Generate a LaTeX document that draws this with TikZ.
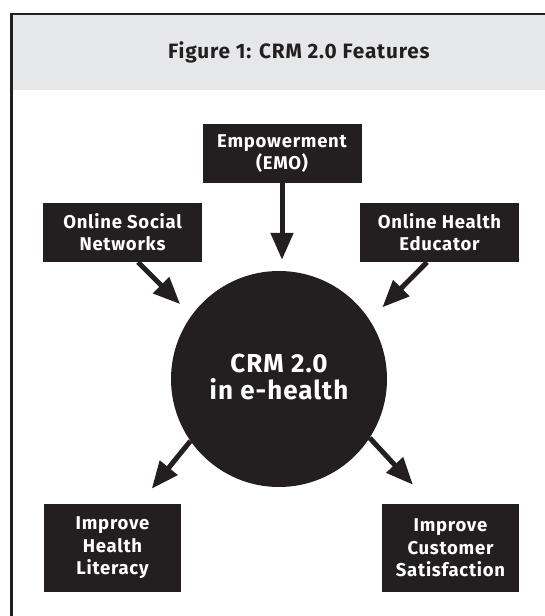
\documentclass[tikz,border=0pt]{standalone}
\usepackage{fontspec}
\setmainfont{Fira Sans}[LetterSpace=4]
\usepackage{xcolor}
\usepackage{tikz}
\usetikzlibrary{arrows.meta}
\definecolor{ink}{HTML}{231F20}
\definecolor{panel}{HTML}{E6E7E8}
\tikzstyle{feature}=[fill=ink, text=white, shape=rectangle, inner sep=0pt, align=center, font=\bfseries\fontsize{18.5}{21.7}\selectfont]
\tikzstyle{top feature}=[feature, minimum width=159pt, minimum height=59pt]
\tikzstyle{bottom feature}=[feature, minimum width=137pt, minimum height=88pt, font=\bfseries\fontsize{18.5}{22.6}\selectfont]
\tikzstyle{hub}=[fill=ink, text=white, shape=circle, minimum size=216pt, inner sep=0pt, align=center, text depth=5pt, font=\bfseries\fontsize{26}{26.7}\selectfont]
\tikzstyle{caption}=[text=ink, anchor=base, font=\bfseries\fontsize{20.8}{24}\selectfont]
\tikzstyle{feed edge}=[-{Triangle[length=27pt, width=22pt]}, draw=ink, fill=ink, line width=5pt]
\tikzstyle{frame}=[draw=ink, line width=2.7pt]
\pgfdeclarelayer{backlayer}
\pgfdeclarelayer{nodelayer}
\pgfdeclarelayer{edgelayer}
\pgfsetlayers{backlayer,nodelayer,edgelayer,main}

\begin{document}
\begin{tikzpicture}[x=1pt, y=-1pt]
	\useasboundingbox (0, 0) rectangle (545, 616);
	\begin{pgfonlayer}{backlayer}
		\fill [panel] (11.5, 14) rectangle (545, 90);
		\draw [style=frame] (545, 14) -- (11.5, 14) -- (11.5, 616);
	\end{pgfonlayer}
	\begin{pgfonlayer}{nodelayer}
		\node [style=caption] (6) at (299, 58) {Figure 1: CRM 2.0 Features};
		\node [style=hub] (0) at (279, 379) {CRM 2.0\\in e-health};
		\node [style=top feature] (1) at (282, 153.5) {Empowerment\\(EMO)};
		\node [style=top feature] (2) at (122.5, 232.5) {Online Social\\Networks};
		\node [style=top feature] (3) at (439.5, 232.5) {Online Health\\Educator};
		\node [style=bottom feature] (4) at (112.5, 548) {Improve\\Health\\Literacy};
		\node [style=bottom feature] (5) at (450.5, 548) {Improve\\Customer\\Satisfaction};
	\end{pgfonlayer}
	\begin{pgfonlayer}{edgelayer}
		\draw [style=feed edge, shorten >=11pt] (1.south) to (1.south |- 0.north);
		\draw [style=feed edge, shorten >=16pt] ([xshift=15.5pt]2.south) to (0.144);
		\draw [style=feed edge, shorten >=18pt] ([xshift=-12.5pt]3.south) to (0.33);
		\draw [style=feed edge, shorten >=19.5pt] (0.215) to ([xshift=27pt]4.north);
		\draw [style=feed edge, shorten >=26pt] (0.327) to ([xshift=-20pt]5.north);
	\end{pgfonlayer}
\end{tikzpicture}
\end{document}
